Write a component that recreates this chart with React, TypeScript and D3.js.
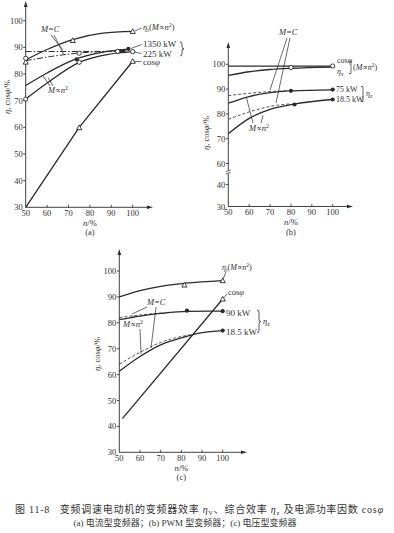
import React from 'react';
import * as d3 from 'd3';

type P = [number, number];

const xTicks = [50, 60, 70, 80, 90, 100];
const yTicksA = [30, 40, 50, 60, 70, 80, 90, 100];
const yTicksB = [30, 40, 60, 70, 80, 90, 100];
const yTicksC = [30, 40, 50, 60, 70, 80, 90, 100];

// Panel (a) current-source inverter
const aEtaT: P[] = [[50, 85.3], [60, 89.2], [72, 92.9], [86, 95.3], [100, 96]];
const aMC1350: P[] = [[50, 88.4], [97, 88.5]];
const aMC225: P[] = [[50, 85], [62, 86.6], [74, 87.8], [97, 88.7]];
const a1350: P[] = [[50, 75.7], [60, 80.4], [73, 85.5], [85, 88], [98, 89.3]];
const a225: P[] = [[50, 70.6], [60, 76.6], [75, 84.4], [88, 87.3], [100, 88.4]];
const aCos: P[] = [[50, 30], [75, 60], [100, 84.8]];
const aTri: P[] = [[72, 92.6], [100, 96], [50, 84.5], [75, 59.9], [100, 84.8]];
const aDot: P[] = [[73.8, 85.5], [98, 89.4], [94, 88.6], [95.5, 88.6]];
const aCirc: P[] = [[50, 85.9], [75, 84.4], [100, 88.4], [50, 70.6], [75, 87.8], [93, 88.5]];

// Panel (b) PWM inverter
const bCos: P[] = [[50, 99.3], [100, 99.3]];
const bEtaV: P[] = [[50, 95.5], [60, 97], [70, 97.9], [80, 98.4], [100, 98.9]];
const b75: P[] = [[50, 84.3], [60, 87], [70, 88.6], [80, 89.3], [100, 89.7]];
const b75MC: P[] = [[50, 87.4], [60, 88.3], [70, 89], [78, 89.3]];
const b18: P[] = [[50, 72], [60, 78.2], [70, 81.8], [82, 84], [100, 85.8]];
const b18MC: P[] = [[50, 77.8], [60, 80.8], [70, 83], [80, 84.1]];
const bDot: P[] = [[80, 89.3], [100, 89.8], [81.7, 83.8], [100, 85.8]];
const bCirc: P[] = [[80, 98.7], [100, 99.3]];

// Panel (c) voltage-source inverter
const cEtaT: P[] = [[50, 90], [60, 92.4], [70, 94.1], [82, 95.3], [100, 96.3]];
const cCos: P[] = [[51.5, 43], [100, 89.2]];
const c90: P[] = [[50, 81.2], [60, 82.6], [70, 83.6], [83, 84.4], [100, 84.5]];
const c90MC: P[] = [[50, 82], [60, 83], [70, 83.8]];
const c18: P[] = [[50, 61.3], [60, 67], [70, 71.5], [80, 74.2], [90, 76.2], [100, 77]];
const c18MC: P[] = [[50, 64], [60, 68.6], [70, 72.4], [80, 74.7], [85, 75.4]];
const cTri: P[] = [[81.5, 94.6], [100, 96.3], [100, 89.2]];
const cDot: P[] = [[82.7, 84.7], [100, 84.5], [100, 77]];

const INK = '#2b2b2b';
const TXT = '#333';
const SERIF = "'Liberation Serif', 'DejaVu Serif', serif";
const CJK = "'Liberation Serif', 'Noto Sans CJK SC', serif";

type Sc = (v: number) => number;

function Curve({ data, x, y, dash, w = 1.3, curve = d3.curveMonotoneX }: { data: P[]; x: Sc; y: Sc; dash?: string; w?: number; curve?: any }) {
  const g = d3.line<P>().x(d => x(d[0])).y(d => y(d[1])).curve(curve);
  return <path d={g(data) || ''} fill="none" stroke={INK} strokeWidth={w} strokeDasharray={dash} />;
}

function Marks({ data, x, y, kind }: { data: P[]; x: Sc; y: Sc; kind: 'tri' | 'dot' | 'circ' }) {
  return (
    <g>
      {data.map((d, i) => {
        const cx = x(d[0]), cy = y(d[1]);
        if (kind === 'tri') {
          const s = 2.6;
          return <path key={i} d={`M${cx},${cy - s}L${cx + s},${cy + s * 0.8}L${cx - s},${cy + s * 0.8}Z`} fill="#fff" stroke={INK} strokeWidth={0.9} />;
        }
        if (kind === 'dot') return <circle key={i} cx={cx} cy={cy} r={2.1} fill={INK} />;
        return <circle key={i} cx={cx} cy={cy} r={2.1} fill="#fff" stroke={INK} strokeWidth={0.9} />;
      })}
    </g>
  );
}

function Axes({ x, y, yTicks, xEnd, yTop, label, ylabX, ylabY }: { x: any; y: any; yTicks: number[]; xEnd: number; yTop: number; label: string; ylabX: number; ylabY: number }) {
  const x0 = x(50), y0 = y(30);
  return (
    <g fontFamily={SERIF} fill={TXT}>
      <line x1={x0} y1={y0} x2={xEnd} y2={y0} stroke={INK} strokeWidth={0.9} />
      <path d={`M${xEnd + 5},${y0}L${xEnd - 1},${y0 - 1.8}L${xEnd - 1},${y0 + 1.8}Z`} fill={INK} />
      <line x1={x0} y1={y0} x2={x0} y2={yTop} stroke={INK} strokeWidth={0.9} />
      <path d={`M${x0},${yTop - 5}L${x0 - 1.8},${yTop + 1}L${x0 + 1.8},${yTop + 1}Z`} fill={INK} />
      {xTicks.map(t => (
        <g key={'x' + t}>
          {t !== 50 && <line x1={x(t)} y1={y0} x2={x(t)} y2={y0 - 2.5} stroke={INK} strokeWidth={0.8} />}
          <text x={x(t)} y={y0 + 8.5} fontSize={8.5} textAnchor="middle">{t}</text>
        </g>
      ))}
      {yTicks.map(t => (
        <g key={'y' + t}>
          {t !== 30 && <line x1={x0 - 2.5} y1={y(t)} x2={x0} y2={y(t)} stroke={INK} strokeWidth={0.8} />}
          <text x={x0 - 3} y={y(t) + 3} fontSize={8.5} textAnchor="end">{t}</text>
        </g>
      ))}
      <text x={x(80)} y={y0 + 18.5} fontSize={8.5} textAnchor="middle"><tspan fontStyle="italic">n</tspan>/%</text>
      <text x={x(80)} y={y0 + 28} fontSize={8.5} textAnchor="middle">{label}</text>
      <text transform={`translate(${ylabX},${ylabY}) rotate(-90)`} fontSize={8.5} textAnchor="middle">
        <tspan fontStyle="italic">η</tspan>, cos<tspan fontStyle="italic">φ</tspan>/%
      </text>
    </g>
  );
}

function MN2({ x, y, fs = 8.5 }: { x: number; y: number; fs?: number }) {
  return (
    <text x={x} y={y} fontSize={fs} fontFamily={SERIF} fill={TXT}>
      <tspan fontStyle="italic">M</tspan>∝<tspan fontStyle="italic">n</tspan><tspan dy={-3} fontSize={fs * 0.7}>2</tspan>
    </text>
  );
}

function MC({ x, y }: { x: number; y: number }) {
  return (
    <text x={x} y={y} fontSize={8.5} fontFamily={SERIF} fill={TXT} fontStyle="italic">M=C</text>
  );
}

function Ldr({ pts }: { pts: number[] }) {
  return <line x1={pts[0]} y1={pts[1]} x2={pts[2]} y2={pts[3]} stroke={INK} strokeWidth={0.7} />;
}

function Brace({ x, y1, y2 }: { x: number; y1: number; y2: number }) {
  const m = (y1 + y2) / 2;
  const d = `M${x},${y1} Q${x + 2},${y1} ${x + 2},${y1 + 2.5} L${x + 2},${m - 2} Q${x + 2},${m} ${x + 4},${m} Q${x + 2},${m} ${x + 2},${m + 2} L${x + 2},${y2 - 2.5} Q${x + 2},${y2} ${x},${y2}`;
  return <path d={d} fill="none" stroke={INK} strokeWidth={0.8} />;
}

export default function App() {
  const xa = d3.scaleLinear().domain([50, 100]).range([25.7, 132.7]);
  const ya = d3.scaleLinear().domain([30, 100]).range([207.3, 20.7]);
  const xb = d3.scaleLinear().domain([50, 100]).range([228.3, 332.7]);
  const yb = d3.scaleLinear().domain([30, 40, 60, 100]).range([206.5, 184.5, 163.5, 64.3]);
  const xc = d3.scaleLinear().domain([50, 100]).range([119.3, 222.7]);
  const yc = d3.scaleLinear().domain([30, 100]).range([452.3, 271]);
  const dashDot = '6,2,1.5,2';
  const lin = d3.curveLinear;
  const bx0 = xb(50);
  const brk = yb(50) - 2;

  return (
    <svg width={394} height={533} style={{ position: 'absolute', left: 0, top: 0, background: '#fff' }}>
      <rect width={394} height={533} fill="#fff" />

      {/* Panel (a) */}
      <Axes x={xa} y={ya} yTicks={yTicksA} xEnd={148} yTop={6} label="(a)" ylabX={10} ylabY={97} />
      <Curve data={aEtaT} x={xa} y={ya} />
      <Curve data={aMC1350} x={xa} y={ya} dash={dashDot} w={1} curve={lin} />
      <Curve data={aMC225} x={xa} y={ya} dash={dashDot} w={1} />
      <Curve data={a1350} x={xa} y={ya} />
      <Curve data={a225} x={xa} y={ya} />
      <Curve data={aCos} x={xa} y={ya} curve={lin} />
      <Marks data={aTri} x={xa} y={ya} kind="tri" />
      <Marks data={aDot} x={xa} y={ya} kind="dot" />
      <Marks data={aCirc} x={xa} y={ya} kind="circ" />
      <MC x={41} y={32} />
      <Ldr pts={[51, 35, 63, 50]} />
      <Ldr pts={[54, 35, 63.5, 54]} />
      <MN2 x={48} y={93} />
      <Ldr pts={[50, 86, 43, 76]} />
      <Ldr pts={[53, 86, 48, 77.5]} />
      <text x={143} y={30} fontSize={8.5} fontFamily={SERIF} fill={TXT}>
        <tspan fontStyle="italic">η</tspan><tspan fontSize={6} dy={2}>t</tspan><tspan dy={-2}>(</tspan><tspan fontStyle="italic">M</tspan>∝<tspan fontStyle="italic">n</tspan><tspan dy={-3} fontSize={6}>2</tspan><tspan dy={3}>)</tspan>
      </text>
      <Ldr pts={[135, 31, 141.5, 28]} />
      <text x={143} y={47} fontSize={9} fontFamily={SERIF} fill={TXT}>1350 kW</text>
      <Ldr pts={[131, 48.5, 141.5, 44.5]} />
      <text x={143} y={56.5} fontSize={9} fontFamily={SERIF} fill={TXT}>225 kW</text>
      <Ldr pts={[134.5, 52, 141.5, 53.5]} />
      <text x={143} y={65} fontSize={9} fontFamily={SERIF} fill={TXT}>cos<tspan fontStyle="italic">φ</tspan></text>
      <Ldr pts={[134, 61.7, 141.5, 61.5]} />
      <Brace x={180} y1={42} y2={56} />

      {/* Panel (b) */}
      <Axes x={xb} y={yb} yTicks={yTicksB} xEnd={348} yTop={47} label="(b)" ylabX={209} ylabY={133} />
      <rect x={bx0 - 2.5} y={brk - 1.5} width={5} height={3} fill="#fff" />
      <Ldr pts={[bx0 - 2.5, brk - 0.2, bx0 + 2.5, brk - 2.2]} />
      <Ldr pts={[bx0 - 2.5, brk + 2.2, bx0 + 2.5, brk + 0.2]} />
      <Curve data={bCos} x={xb} y={yb} curve={lin} />
      <Curve data={bEtaV} x={xb} y={yb} />
      <Curve data={b75} x={xb} y={yb} />
      <Curve data={b75MC} x={xb} y={yb} dash="3,2" w={0.8} />
      <Curve data={b18} x={xb} y={yb} />
      <Curve data={b18MC} x={xb} y={yb} dash="3,2" w={0.8} />
      <Marks data={bDot} x={xb} y={yb} kind="dot" />
      <Marks data={bCirc} x={xb} y={yb} kind="circ" />
      <MC x={279} y={35} />
      <Ldr pts={[287, 38, 270, 90]} />
      <Ldr pts={[290, 38, 276, 103]} />
      <MN2 x={249} y={131} />
      <Ldr pts={[253, 123, 246.5, 98]} />
      <Ldr pts={[261, 123, 263, 115.5]} />
      <text x={337} y={63} fontSize={8} fontFamily={SERIF} fill={TXT}>cos<tspan fontStyle="italic">φ</tspan></text>
      <text x={337} y={74} fontSize={8} fontFamily={SERIF} fill={TXT}><tspan fontStyle="italic">η</tspan><tspan fontSize={5.5} dy={2}>v</tspan></text>
      <path d="M349,61.5H351V73.5H349" fill="none" stroke={INK} strokeWidth={0.7} />
      <text x={353} y={70} fontSize={8} fontFamily={SERIF} fill={TXT}>(<tspan fontStyle="italic">M</tspan>∝<tspan fontStyle="italic">n</tspan><tspan dy={-3} fontSize={5.5}>2</tspan><tspan dy={3}>)</tspan></text>
      <text x={336} y={92} fontSize={8} fontFamily={SERIF} fill={TXT}>75 kW</text>
      <text x={336} y={102} fontSize={8} fontFamily={SERIF} fill={TXT}>18.5 kW</text>
      <path d="M361,86.5H363V101.5H361" fill="none" stroke={INK} strokeWidth={0.7} />
      <text x={366} y={96} fontSize={8} fontFamily={SERIF} fill={TXT}><tspan fontStyle="italic">η</tspan><tspan fontSize={5.5} dy={2}>z</tspan></text>

      {/* Panel (c) */}
      <Axes x={xc} y={yc} yTicks={yTicksC} xEnd={242} yTop={254} label="(c)" ylabX={100} ylabY={354} />
      <Curve data={cEtaT} x={xc} y={yc} />
      <Curve data={cCos} x={xc} y={yc} curve={lin} />
      <Curve data={c90} x={xc} y={yc} />
      <Curve data={c90MC} x={xc} y={yc} dash="3,2" w={0.8} />
      <Curve data={c18} x={xc} y={yc} />
      <Curve data={c18MC} x={xc} y={yc} dash="3,2" w={0.8} />
      <Marks data={cTri} x={xc} y={yc} kind="tri" />
      <Marks data={cDot} x={xc} y={yc} kind="dot" />
      <MC x={147} y={305} />
      <Ldr pts={[147, 307, 132, 314]} />
      <Ldr pts={[156, 307, 151, 348]} />
      <MN2 x={123} y={327} />
      <Ldr pts={[134, 318, 132, 315.5]} />
      <Ldr pts={[140, 329, 141, 354]} />
      <text x={222} y={270} fontSize={8} fontFamily={SERIF} fill={TXT}>
        <tspan fontStyle="italic">η</tspan><tspan fontSize={5.5} dy={2}>t</tspan><tspan dy={-2}>(</tspan><tspan fontStyle="italic">M</tspan>∝<tspan fontStyle="italic">n</tspan><tspan dy={-3} fontSize={5.5}>2</tspan><tspan dy={3}>)</tspan>
      </text>
      <Ldr pts={[223, 279, 226, 272]} />
      <text x={228} y={295} fontSize={8.5} fontFamily={SERIF} fill={TXT}>cos<tspan fontStyle="italic">φ</tspan></text>
      <Ldr pts={[223.5, 298, 227, 294]} />
      <text x={226} y={315.5} fontSize={9} fontFamily={SERIF} fill={TXT}>90 kW</text>
      <text x={226} y={334.5} fontSize={9} fontFamily={SERIF} fill={TXT}>18.5 kW</text>
      <Brace x={257} y1={310} y2={333} />
      <text x={263} y={324} fontSize={8.5} fontFamily={SERIF} fill={TXT}><tspan fontStyle="italic">η</tspan><tspan fontSize={6} dy={2}>z</tspan></text>

      {/* Caption */}
      <text x={15} y={513} fontSize={10} fontFamily={CJK} fill={TXT} textLength={368} lengthAdjust="spacing">
        图 11-8{'\u00a0\u00a0\u00a0'}变频调速电动机的变频器效率 <tspan fontStyle="italic">η</tspan><tspan fontSize={6.5} dy={2}>V</tspan><tspan dy={-2}>、综合效率 </tspan><tspan fontStyle="italic">η</tspan><tspan fontSize={6.5} dy={2}>z</tspan><tspan dy={-2}> 及电源功率因数 cos</tspan><tspan fontStyle="italic">φ</tspan>
      </text>
      <text x={185} y={526} fontSize={9} fontFamily={CJK} fill={TXT} textAnchor="middle">
        (a) 电流型变频器；(b) PWM 型变频器；(c) 电压型变频器
      </text>
    </svg>
  );
}
